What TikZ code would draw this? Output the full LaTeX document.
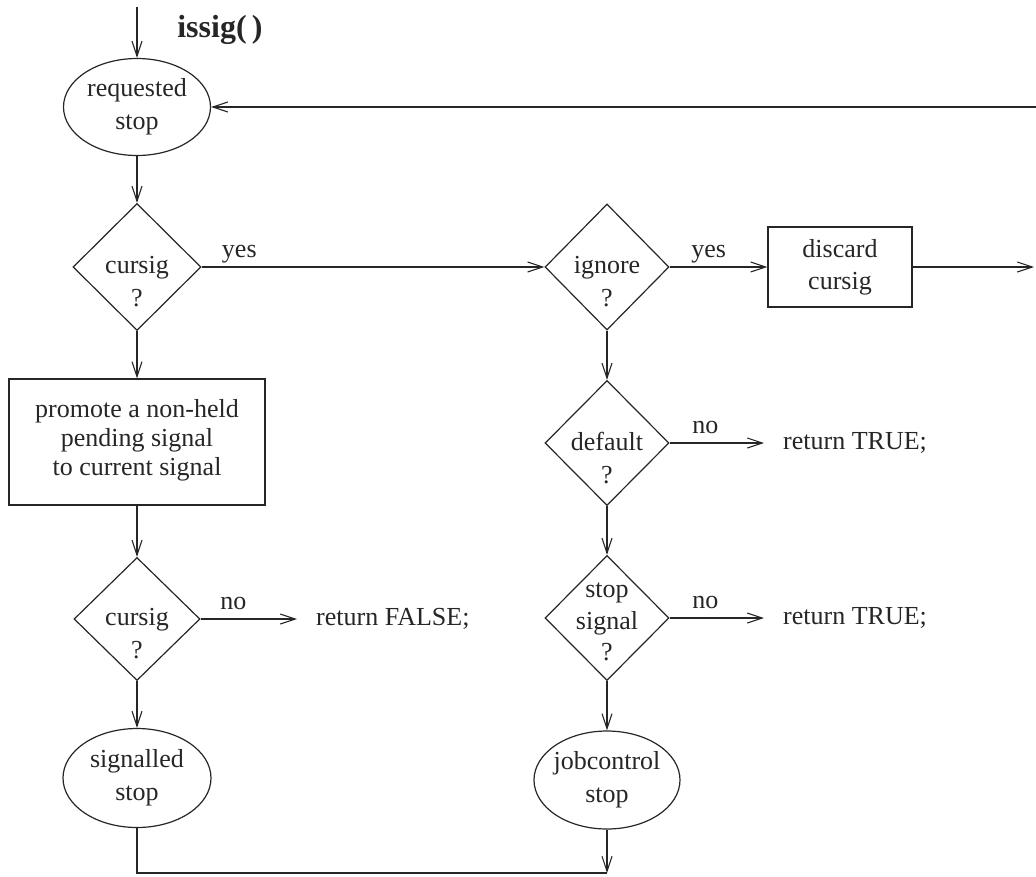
\documentclass[tikz,border=0pt]{standalone}
\usepackage{fontspec}
\setmainfont{Liberation Serif}
\usetikzlibrary{shapes.geometric,arrows.meta}
\definecolor{ink}{gray}{0.15}
\begin{document}
\begin{tikzpicture}[x=1pt,y=-1pt,
  every node/.style={font=\fontsize{26}{29}\selectfont, text=ink},
  line/.style={draw=ink, line width=1.2pt},
  arr/.style={line, -{Straight Barb[length=15pt,width=10pt,line width=1.1pt]}},
  ell/.style={ellipse, draw=ink, line width=1.2pt, inner sep=0pt},
  dia/.style={diamond, draw=ink, line width=1.2pt, inner sep=0pt},
  box/.style={rectangle, draw=ink, line width=1.2pt, inner sep=0pt},
  lbl/.style={align=center, inner sep=0pt, font=\fontsize{26}{33}\selectfont},
  dlbl/.style={lbl, yshift=-15pt},
  txt/.style={anchor=west, inner sep=0pt},
  elab/.style={anchor=base, inner sep=0pt, yshift=10pt},
  ]
\useasboundingbox (0,0) rectangle (1036,876);

% nodes, left column
\coordinate (in) at (137,7);
\node[font=\fontsize{32}{36}\selectfont\bfseries] (title) at (220,30) {issig(\,)};
\node[ell, minimum width=147pt, minimum height=97pt,
      label={[lbl]center:{requested\\stop}}] (req) at (137,107) {};
\node[dia, minimum width=128pt, minimum height=127pt,
      label={[dlbl]center:{cursig\\?}}] (d1) at (137,267) {};
\node[box, minimum width=256pt, minimum height=126pt,
      label={[lbl, font=\fontsize{26}{29}\selectfont, yshift=2pt]center:{promote a non-held\\pending signal\\to current signal}}] (prom) at (137,442) {};
\node[dia, minimum width=126pt, minimum height=123pt,
      label={[dlbl]center:{cursig\\?}}] (d2) at (137,619) {};
\node[txt] (rf) at (316,619) {return FALSE;};
\node[ell, minimum width=148pt, minimum height=99pt,
      label={[lbl]center:{signalled\\stop}}] (sig) at (137,778) {};

% nodes, right column
\node[dia, minimum width=124pt, minimum height=126pt,
      label={[dlbl]center:{ignore\\?}}] (ign) at (607,267) {};
\node[box, minimum width=144pt, minimum height=80pt,
      label={[lbl, font=\fontsize{26}{32}\selectfont]center:{discard\\cursig}}] (disc) at (840,267) {};
\node[dia, minimum width=124pt, minimum height=125pt,
      label={[dlbl]center:{default\\?}}] (def) at (607,443) {};
\node[txt] (rt1) at (783,443) {return TRUE;};
\node[dia, minimum width=124pt, minimum height=125pt,
      label={[lbl, font=\fontsize{26}{31.5}\selectfont, yshift=-4pt]center:{stop\\signal\\?}}] (ss) at (607,618) {};
\node[txt] (rt2) at (783,618) {return TRUE;};
\node[ell, minimum width=146pt, minimum height=98pt,
      label={[lbl]center:{jobcontrol\\stop}}] (job) at (607,780) {};

% loose ends at the picture border
\coordinate (r1) at (1036,107);
\coordinate (r2) at (1034,267);
\coordinate (b2) at (607,873);

% connectors
\draw[arr] (in) -- (req.north);
\draw[arr] (r1) -- (req.east);
\draw[arr] (req) -- (d1);
\draw[arr] (d1) -- node[elab, pos=0.11] {yes} (ign);
\draw[arr] (ign) -- node[elab, pos=0.4] {yes} (disc);
\draw[arr] (disc) -- (r2);
\draw[arr] (d1) -- (prom);
\draw[arr] (prom) -- (d2);
\draw[arr] (d2) -- node[elab, pos=0.34] {no} ([xshift=-19pt]rf.west);
\draw[arr] (d2) -- (sig);
\draw[line] (sig) |- (b2);
\draw[arr] (ign) -- (def);
\draw[arr] (def) -- node[elab, pos=0.38] {no} ([xshift=-19pt]rt1.west);
\draw[arr] (def) -- (ss);
\draw[arr] (ss) -- node[elab, pos=0.38] {no} ([xshift=-19pt]rt2.west);
\draw[arr] (ss) -- (job);
\draw[arr] (job) -- (b2);
\end{tikzpicture}
\end{document}
